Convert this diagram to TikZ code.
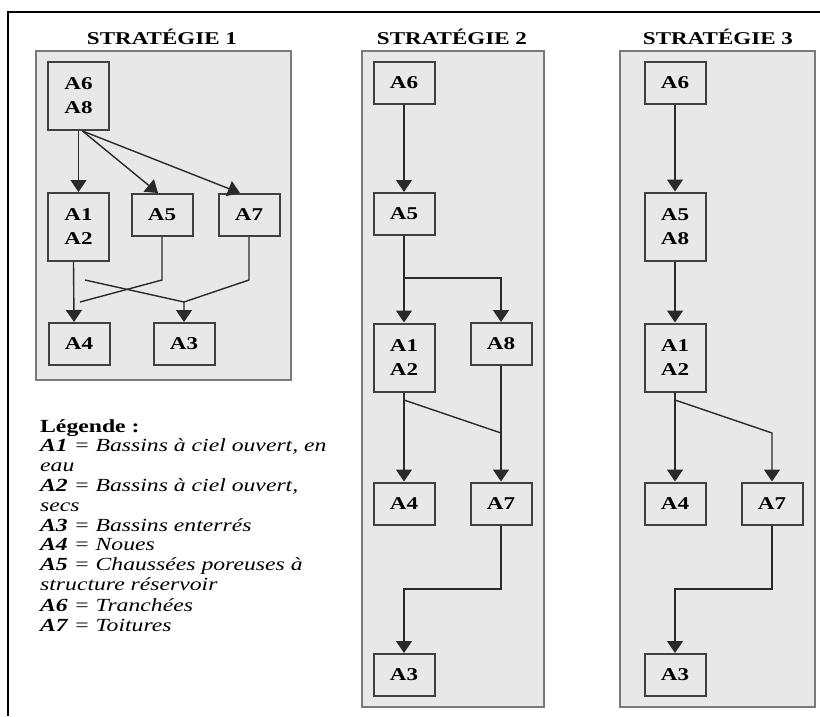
\documentclass[tikz,border=0pt]{standalone}
\usepackage{fontspec}
\setmainfont{Liberation Serif}[FakeStretch=1.28]
\usetikzlibrary{positioning,arrows.meta}
\definecolor{fondgris}{HTML}{E8E8E8}
\definecolor{bordgris}{HTML}{7A7A7A}
\definecolor{traitgris}{HTML}{2A2A2A}

\begin{document}
\begin{tikzpicture}[%
		x=1pt, y=-1pt,
		fleche/.style={%
			draw=traitgris,
			line width=1.4pt,
			-{Triangle[length=12pt,width=16pt]}
		},
		trait/.style={%
			draw=traitgris,
			line width=1.4pt
		},
		amenag/.style={%
			minimum width=61pt,
			minimum height=42pt,
			inner sep=0pt,
			align=center,
			fill=fondgris,
			draw=black!75,
			line width=2pt,
			font=\fontsize{18}{24}\selectfont\bfseries
		},
		double/.style={%
			minimum height=68pt
		},
		panneau/.style={%
			fill=fondgris,
			draw=bordgris,
			line width=1.6pt
		},
		titre/.style={%
			font=\fontsize{18}{22}\selectfont\bfseries
		}
		]
		\useasboundingbox (0,0) rectangle (820,716);
		\draw[line width=2.2pt] (8,716) -- (8,12) -- (820,12);
		
		% strategie 1
		\node[titre] (t1) at (162,37) {STRATÉGIE 1};
		\draw[panneau] (36,51) rectangle (291,380);
		\node[amenag,double] (s1a68) at (78.5,96)  {A6\\A8};
		\node[amenag,double] (s1a12) at (78.5,227) {A1\\A2};
		\node[amenag] (s1a5)  at (162,215)  {A5};
		\node[amenag] (s1a7)  at (249,215)  {A7};
		\node[amenag] (s1a4)  at (79,344)   {A4};
		\node[amenag] (s1a3)  at (184,344)  {A3};
		\coordinate (c5)  at (162,280);
		\coordinate (f5)  at (80,302);
		\coordinate (d12) at (85,280);
		\coordinate (c7)  at (249,280);
		\coordinate (m3)  at (184,302);
		
		\draw[fleche] (s1a68) -- (s1a12);
		\draw[fleche] ([xshift=4pt]s1a68.south) -- ([xshift=-4pt]s1a5.north);
		\draw[fleche] ([xshift=4pt]s1a68.south) -- ([xshift=-9pt]s1a7.north);
		\draw[fleche] ([xshift=-5pt]s1a12.south) -- ([xshift=-5pt]s1a4.north);
		\draw[trait] (s1a5) -- (c5) -- (f5);
		\draw[trait] (s1a7) -- (c7) -- (m3);
		\draw[fleche] (d12) -- (m3) -- (s1a3);
		
		% strategie 2
		\node[titre] (t2) at (452,37) {STRATÉGIE 2};
		\draw[panneau] (362,51) rectangle (544,707);
		\node[amenag] (s2a6)  at (404,83)    {A6};
		\node[amenag] (s2a5)  at (404,214)   {A5};
		\node[amenag,double] (s2a12) at (404,357.5) {A1\\A2};
		\node[amenag] (s2a8)  at (501,344)   {A8};
		\node[amenag] (s2a4)  at (404,503.5) {A4};
		\node[amenag] (s2a7)  at (501,503.5) {A7};
		\node[amenag] (s2a3)  at (404,675)   {A3};
		\coordinate (b2) at (404,278);
		\coordinate (e2) at (404,400);
		\coordinate (k2) at (501,433);
		\coordinate (z2) at (501,589);
		
		\draw[fleche] (s2a6) -- (s2a5);
		\draw[fleche] (s2a5) -- (s2a12);
		\draw[fleche] (b2) -| (s2a8);
		\draw[fleche] (s2a12) -- (s2a4);
		\draw[trait] (e2) -- (k2);
		\draw[fleche] (s2a8) -- (s2a7);
		\draw[fleche] (s2a7) -- (z2) -| (s2a3);
		
		% strategie 3
		\node[titre] (t3) at (718,37) {STRATÉGIE 3};
		\draw[panneau] (620,51) rectangle (815,707);
		\node[amenag] (s3a6)  at (675,83)    {A6};
		\node[amenag,double] (s3a58) at (675,226.5) {A5\\A8};
		\node[amenag,double] (s3a12) at (675,357.5) {A1\\A2};
		\node[amenag] (s3a4)  at (675,503.5) {A4};
		\node[amenag] (s3a7)  at (772,503.5) {A7};
		\node[amenag] (s3a3)  at (675,675)   {A3};
		\coordinate (e3) at (675,400);
		\coordinate (k3) at (772,433);
		\coordinate (z3) at (772,589);
		
		\draw[fleche] (s3a6) -- (s3a58);
		\draw[fleche] (s3a58) -- (s3a12);
		\draw[fleche] (s3a12) -- (s3a4);
		\draw[fleche] (e3) -- (k3) -- (s3a7);
		\draw[fleche] (s3a7) -- (z3) -| (s3a3);
		
		% legende
		\node[anchor=north west, align=left, inner sep=0pt,
		font=\fontsize{18.5}{19.8}\selectfont] (leg) at (40,419) {%
			\textbf{Légende :}\\
			\itshape\textbf{A1} = Bassins à ciel ouvert, en\\
			\itshape eau\\
			\itshape\textbf{A2} = Bassins à ciel ouvert,\\
			\itshape secs\\
			\itshape\textbf{A3} = Bassins enterrés\\
			\itshape\textbf{A4} = Noues\\
			\itshape\textbf{A5} = Chaussées poreuses à\\
			\itshape structure réservoir\\[1pt]
			\itshape\textbf{A6} = Tranchées\\
			\itshape\textbf{A7} = Toitures};
		\end{tikzpicture}
\end{document}
